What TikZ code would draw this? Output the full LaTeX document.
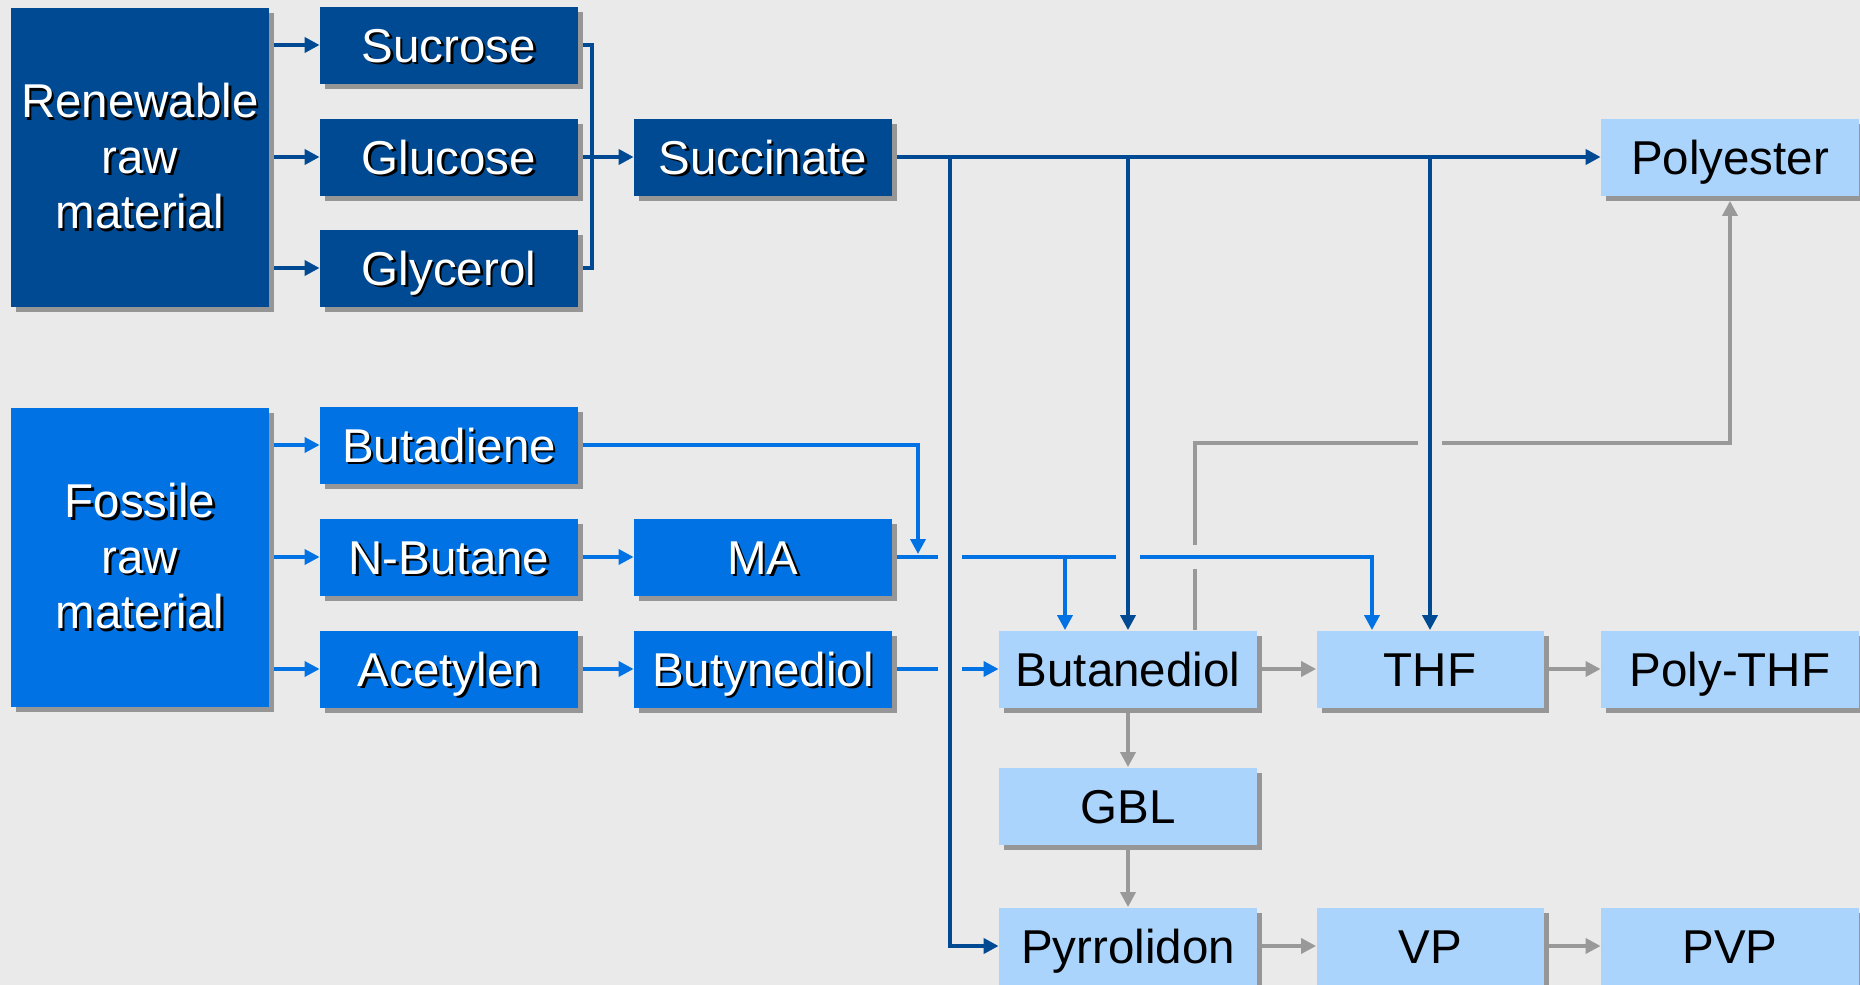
\documentclass[tikz,border=0pt]{standalone}
\usepackage{fontspec}
\setmainfont{Liberation Sans}
\usetikzlibrary{arrows.meta,shadows}

\definecolor{bg}{HTML}{EAEAEA}
\definecolor{renewblue}{HTML}{004A94}
\definecolor{fossilblue}{HTML}{0072E3}
\definecolor{prodblue}{HTML}{AAD4FC}
\definecolor{shadowgray}{HTML}{969696}
\definecolor{procgray}{HTML}{999999}

\newcommand\shtxt[1]{\rlap{\kern1.2pt\raisebox{-1.2pt}{\color{black}#1}}#1}

\tikzset{
  box/.style={minimum width=129pt, minimum height=38.5pt, inner sep=0pt, align=center,
    font=\fontsize{23.75}{27.75}\selectfont,
    drop shadow={shadow xshift=2.5pt, shadow yshift=-2.5pt, fill=shadowgray, opacity=1}},
  oneline/.style={text height=17pt, text depth=0pt},
  srcbox/.style={box, minimum height=149.5pt, text=white},
  renewbox/.style={box, oneline, fill=renewblue, text=white},
  fossilbox/.style={box, oneline, fill=fossilblue, text=white},
  prodbox/.style={box, oneline, fill=prodblue, text=black},
  arr/.style={-{Triangle[length=7.5pt,width=7.5pt]}},
  renewline/.style={draw=renewblue, line width=2pt, shorten <=2.5pt},
  fossilline/.style={draw=fossilblue, line width=1.75pt, shorten <=2.5pt},
  procline/.style={draw=procgray, line width=1.75pt, shorten <=2.5pt},
  bridge/.style={preaction={draw=bg, line width=12pt, -}},
}

\begin{document}
\begin{tikzpicture}[x=0.5pt,y=-0.5pt]
      \useasboundingbox[fill=bg] (0,0) rectangle (1860,985);
      % renewable
      \node[srcbox, fill=renewblue] (renew) at (140,157.5) {\shtxt{Renewable}\\\shtxt{raw}\\\shtxt{material}};
      \node[renewbox] (sucrose) at (449,45) {\shtxt{Sucrose}};
      \node[renewbox] (glucose) at (449,157) {\shtxt{Glucose}};
      \node[renewbox] (glycerol) at (449,268) {\shtxt{Glycerol}};
      \node[renewbox] (succ) at (763,157) {\shtxt{Succinate}};
      % fossil
      \node[srcbox, fill=fossilblue] (fossil) at (140,557.5) {\shtxt{Fossile}\\\shtxt{raw}\\\shtxt{material}};
      \node[fossilbox] (butadiene) at (449,445) {\shtxt{Butadiene}};
      \node[fossilbox] (nbutane) at (449,557) {\shtxt{N-Butane}};
      \node[fossilbox] (acetylen) at (449,669) {\shtxt{Acetylen}};
      \node[fossilbox] (ma) at (763,557) {\shtxt{MA}};
      \node[fossilbox] (butyne) at (763,669) {\shtxt{Butynediol}};
      % products
      \node[prodbox] (polyester) at (1730,157) {Polyester};
      \node[prodbox] (bdo) at (1128,669) {Butanediol};
      \node[prodbox, minimum width=113.5pt] (thf) at (1430,669) {THF};
      \node[prodbox] (pthf) at (1730,669) {Poly-THF};
      \node[prodbox] (gbl) at (1128,806) {GBL};
      \node[prodbox] (pyrr) at (1128,946) {Pyrrolidon};
      \node[prodbox, minimum width=113.5pt] (vp) at (1430,946) {VP};
      \node[prodbox] (pvp) at (1730,946) {PVP};

      \coordinate (join) at (592,157); % bracket
      \coordinate (tap) at (950,157);
      \coordinate (merge) at (918,554);
      \coordinate (bdoin) at ([xshift=-31.5pt]bdo.north);
      \coordinate (bdoout) at ([xshift=33.5pt]bdo.north);
      \coordinate (thfin) at ([xshift=-29pt]thf.north);

      % grey
      \draw[procline, arr] (bdo) -- (thf);
      \draw[procline, arr] (thf) -- (pthf);
      \draw[procline, arr] (bdo) -- (gbl);
      \draw[procline, arr] (gbl) -- (pyrr);
      \draw[procline, arr] (pyrr) -- (vp);
      \draw[procline, arr] (vp) -- (pvp);
      \draw[procline, arr, shorten <=0pt, shorten >=2.5pt] (bdoout) -- ++(0,-187) -| (polyester);

      % fossil
      \draw[fossilline, arr] (fossil.east |- butadiene) -- (butadiene);
      \draw[fossilline, arr] (fossil.east |- nbutane) -- (nbutane);
      \draw[fossilline, arr] (fossil.east |- acetylen) -- (acetylen);
      \draw[fossilline, arr] (nbutane) -- (ma);
      \draw[fossilline, arr] (acetylen) -- (butyne);
      \draw[fossilline, arr, bridge] (ma) -| (thfin);
      \draw[fossilline, arr, shorten <=0pt] (bdoin |- ma) -- (bdoin);
      \draw[fossilline, arr] (butadiene) -| (merge);
      \draw[fossilline, arr] (butyne) -- (bdo);

      % renewable
      \draw[renewline, arr] (renew.east |- sucrose) -- (sucrose);
      \draw[renewline, arr] (renew.east |- glucose) -- (glucose);
      \draw[renewline, arr] (renew.east |- glycerol) -- (glycerol);
      \draw[renewline, shorten >=2.5pt] (sucrose) -| (join) |- (glycerol);
      \draw[renewline, arr] (glucose) -- (succ);
      \draw[renewline, arr, bridge, shorten <=0pt] (tap) |- (pyrr);
      \draw[renewline, arr, bridge, shorten <=0pt] (succ -| bdo) -- (bdo);
      \draw[renewline, arr, bridge, shorten <=0pt] (succ -| thf) -- (thf);
      \draw[renewline, arr] (succ) -- (polyester);
\end{tikzpicture}
\end{document}
